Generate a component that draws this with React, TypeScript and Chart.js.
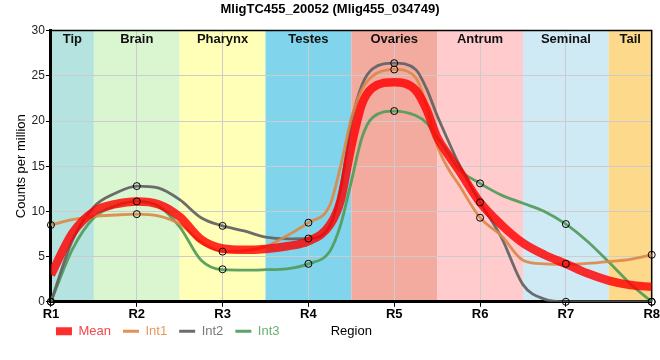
import React, { useEffect, useRef } from "react";
import { Chart, registerables } from "chart.js";

Chart.register(...registerables);

const TITLE = "MligTC455_20052 (Mlig455_034749)";
const Y_TITLE = "Counts per million";
const X_TITLE = "Region";
const X_TICK_LABELS = ["R1", "R2", "R3", "R4", "R5", "R6", "R7", "R8"];

const REGION_NAMES = ["Tip", "Brain", "Pharynx", "Testes", "Ovaries", "Antrum", "Seminal", "Tail"];
const REGION_START = [1, 1.5, 2.5, 3.5, 4.5, 5.5, 6.5, 7.5];
const REGION_END = [1.5, 2.5, 3.5, 4.5, 5.5, 6.5, 7.5, 8];
const REGION_COLORS = ["#b5e3df", "#d9f6d0", "#ffffb7", "#80d5ec", "#f4ab9f", "#ffcbcc", "#cfeaf5", "#fdd98b"];

const SERIES_NAMES = ["Mean", "Int1", "Int2", "Int3"];
const SERIES_COLORS = ["rgba(255,0,0,0.82)", "rgba(220,135,70,0.9)", "rgba(100,100,100,0.95)", "rgba(80,155,90,0.92)"];
const LEGEND_TEXT_COLORS = ["#f4474a", "#e29a62", "#7a7a7a", "#6ab074"];
const SERIES_WIDTHS = [8.5, 2.8, 2.8, 2.8];

// smooth profile curves (sampled positions along the region axis)
const CURVE_X = [1, 1.25, 1.5, 1.75, 2, 2.25, 2.5, 2.75, 3, 3.25, 3.5, 3.75, 4, 4.25, 4.375, 4.5, 4.625, 4.75, 5, 5.25, 5.375, 5.5, 5.625, 5.75, 6, 6.25, 6.5, 6.75, 7, 7.25, 7.5, 7.75, 8];
const MEAN_CURVE = [3.0, 7.6, 10.0, 10.8, 11.1, 10.8, 9.4, 6.9, 5.9, 5.75, 5.85, 6.15, 6.7, 8.5, 11.2, 17.2, 21.9, 23.7, 24.3, 23.4, 21.3, 18.2, 16.3, 14.6, 11.0, 8.5, 6.5, 5.2, 4.2, 3.15, 2.35, 1.85, 1.65];
const INT1_CURVE = [8.5, 9.1, 9.45, 9.6, 9.7, 9.5, 8.6, 6.6, 5.55, 5.65, 6.1, 7.3, 8.75, 10.7, 15.0, 20.3, 23.5, 25.0, 25.7, 24.8, 21.8, 17.3, 14.8, 13.0, 9.3, 7.3, 4.6, 4.2, 4.15, 4.25, 4.45, 4.7, 5.2];
const INT2_CURVE = [0, 6.8, 10.5, 12.0, 12.8, 12.6, 11.3, 9.3, 8.4, 7.85, 7.15, 6.95, 7.0, 8.4, 12.5, 19.8, 24.0, 25.8, 26.4, 25.7, 23.6, 20.6, 17.9, 15.3, 11.0, 7.1, 1.9, 0.3, 0, 0, 0, 0, 0];
const INT3_CURVE = [0, 5.8, 9.3, 10.6, 11.1, 10.6, 8.3, 4.6, 3.55, 3.5, 3.55, 3.65, 4.2, 5.6, 8.5, 13.3, 18.2, 20.4, 21.1, 20.6, 19.8, 18.2, 16.5, 14.7, 13.1, 11.8, 10.9, 10.0, 8.6, 6.7, 4.4, 2.0, 0];

// measured values at each region
const MARKER_X = [1, 2, 3, 4, 5, 6, 7, 8];
const INT1_POINTS = [8.5, 9.7, 5.55, 8.75, 25.7, 9.3, 4.2, 5.2];
const INT2_POINTS = [0, 12.8, 8.4, 7.0, 26.4, 11.0, 0, 0];
const INT3_POINTS = [0, 11.1, 3.6, 4.2, 21.1, 13.1, 8.6, 0];

const FONT = "'Liberation Sans', Arial, sans-serif";

const LEGEND_PAD = 12;
const LEGEND_FONT = 13;
const XTITLE_PAD_BOTTOM = 2;
const XTITLE_FONT = 13;

const regionPlugin = {
  id: "regionBands",
  beforeDraw(chart: any) {
    const { ctx, chartArea: a, scales } = chart;
    const x = scales.x;
    ctx.save();
    for (let i = 0; i < REGION_NAMES.length; i++) {
      const l = x.getPixelForValue(REGION_START[i]);
      const r = x.getPixelForValue(REGION_END[i]);
      ctx.fillStyle = REGION_COLORS[i];
      ctx.fillRect(l, a.top, r - l, a.bottom - a.top);
    }
    ctx.restore();
    // put legend on the same row as the x-axis title, aligned with plot left
    const lg: any = chart.legend;
    if (lg) {
      const titleCenter = x.bottom - XTITLE_PAD_BOTTOM - (XTITLE_FONT * 1.2) / 2;
      lg.left = a.left + 5 - LEGEND_PAD;
      lg.top = titleCenter - LEGEND_PAD - LEGEND_FONT / 2;
      lg.bottom = lg.top + 40;
    }
  },
  beforeDatasetsDraw(chart: any) {
    const { ctx, chartArea: a, scales } = chart;
    const x = scales.x;
    ctx.save();
    ctx.font = `bold 13px ${FONT}`;
    ctx.fillStyle = "#111";
    ctx.textAlign = "center";
    ctx.textBaseline = "middle";
    for (let i = 0; i < REGION_NAMES.length; i++) {
      const c = (x.getPixelForValue(REGION_START[i]) + x.getPixelForValue(REGION_END[i])) / 2;
      ctx.fillText(REGION_NAMES[i], c, a.top + 9);
    }
    ctx.strokeStyle = "#000";
    ctx.lineWidth = 1.5;
    ctx.beginPath();
    ctx.moveTo(a.left, a.top);
    ctx.lineTo(a.right, a.top);
    ctx.lineTo(a.right, a.bottom);
    ctx.stroke();
    ctx.restore();
  },
};

export default function App() {
  const ref = useRef<HTMLCanvasElement>(null);

  useEffect(() => {
    if (!ref.current) return;
    const curves = [MEAN_CURVE, INT1_CURVE, INT2_CURVE, INT3_CURVE];
    const lineSets = curves.map((vals, i) => ({
      label: SERIES_NAMES[i],
      data: CURVE_X.map((xv, j) => ({ x: xv, y: vals[j] })),
      borderColor: SERIES_COLORS[i],
      backgroundColor: SERIES_COLORS[i],
      borderWidth: SERIES_WIDTHS[i],
      pointRadius: 0,
      pointHoverRadius: 0,
      cubicInterpolationMode: "monotone" as const,
      fill: false,
      order: 1,
    }));
    const pts = [INT1_POINTS, INT2_POINTS, INT3_POINTS];
    const markerSets = pts.map((vals, i) => ({
      label: SERIES_NAMES[i + 1] + " values",
      data: MARKER_X.map((xv, j) => ({ x: xv, y: vals[j] })),
      showLine: false,
      pointRadius: 3.5,
      pointHoverRadius: 3.5,
      pointBackgroundColor: "rgba(0,0,0,0)",
      pointBorderColor: "#000",
      pointBorderWidth: 1,
      clip: false as any,
      order: 0,
    }));

    const chart = new Chart(ref.current, {
      type: "line",
      data: { datasets: [...lineSets, ...markerSets] as any },
      plugins: [regionPlugin],
      options: {
        animation: false,
        responsive: false,
        layout: { padding: { left: 0, right: 0, top: 0, bottom: 0 } },
        plugins: {
          tooltip: { enabled: false },
          title: {
            display: true,
            text: TITLE,
            color: "#000",
            font: { family: FONT, size: 13, weight: "bold" },
            padding: { top: 2, bottom: 13 },
          },
          legend: {
            display: true,
            position: "bottom",
            align: "start",
            maxHeight: 19,
            labels: {
              usePointStyle: true,
              pointStyleWidth: 16,
              boxHeight: 8,
              padding: LEGEND_PAD,
              font: { family: FONT, size: LEGEND_FONT },
              generateLabels: () =>
                SERIES_NAMES.map((name, i) => ({
                  text: name,
                  datasetIndex: i,
                  fillStyle: SERIES_COLORS[i],
                  strokeStyle: SERIES_COLORS[i],
                  lineWidth: i === 0 ? 0 : 3,
                  pointStyle: i === 0 ? "rect" : "line",
                  fontColor: LEGEND_TEXT_COLORS[i],
                  hidden: false,
                })) as any,
            },
          },
        },
        scales: {
          x: {
            type: "linear",
            min: 1,
            max: 8,
            offset: false,
            grid: { color: "#cccccc", tickColor: "#000", tickLength: 5, lineWidth: 1 },
            border: { color: "#000", width: 3 },
            ticks: {
              stepSize: 1,
              autoSkip: false,
              padding: 0,
              color: "#000",
              font: { family: FONT, size: 13, weight: "bold" },
              callback: (v: any) => X_TICK_LABELS[Number(v) - 1] ?? "",
            },
            title: {
              display: true,
              text: X_TITLE,
              color: "#000",
              font: { family: FONT, size: XTITLE_FONT },
              padding: { top: 1, bottom: XTITLE_PAD_BOTTOM },
            },
          },
          y: {
            min: 0,
            max: 30,
            grid: { color: "#cccccc", tickColor: "#000", tickLength: 5, lineWidth: 1 },
            border: { color: "#000", width: 3 },
            ticks: {
              stepSize: 5,
              padding: 1,
              color: "#222",
              font: { family: FONT, size: 12 },
            },
            title: {
              display: true,
              text: Y_TITLE,
              color: "#000",
              font: { family: FONT, size: 13 },
              padding: { top: 14, bottom: 1 },
            },
          },
        },
      },
    });
    return () => chart.destroy();
  }, []);

  return (
    <div style={{ position: "absolute", left: 0, top: 0, width: 660, height: 360 }}>
      <canvas ref={ref} width={660} height={360} />
    </div>
  );
}
